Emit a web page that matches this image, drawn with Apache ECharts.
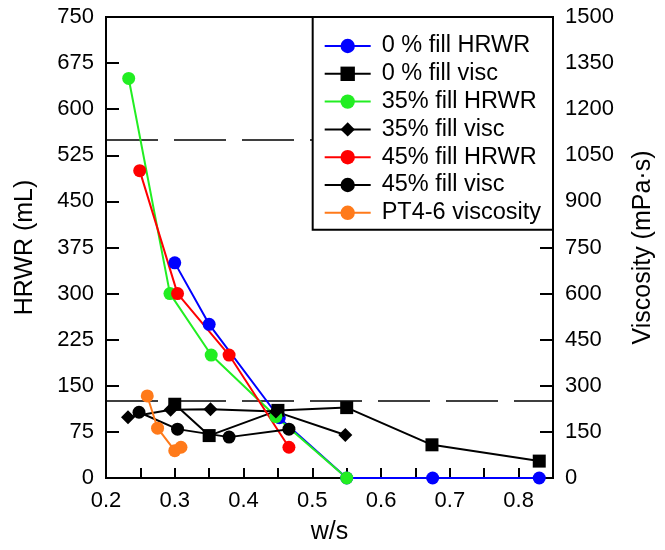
<!DOCTYPE html>
<html>
<head>
<meta charset="utf-8">
<script src="https://cdn.jsdelivr.net/npm/echarts@6/dist/echarts.min.js"></script>
<style>html,body{margin:0;padding:0;background:#fff;}#chart{width:665px;height:550px;}</style>
</head>
<body>
<div id="chart"></div>
<script>
// Data (x = w/s)
const hrwr0 = [[0.30, 350], [0.35, 250], [0.452, 98], [0.55, 0], [0.675, 0], [0.83, 0]];
const visc0 = [[0.30, 240], [0.35, 138], [0.45, 220], [0.55, 229], [0.674, 108], [0.83, 55]];
const hrwr35 = [[0.233, 650], [0.293, 300], [0.353, 200], [0.447, 100], [0.55, 0]];
const visc35 = [[0.232, 198], [0.294, 222], [0.352, 224], [0.447, 216], [0.548, 140]];
const hrwr45 = [[0.249, 500], [0.304, 300], [0.379, 200], [0.466, 50]];
const visc45 = [[0.248, 214], [0.304, 159], [0.379, 133], [0.466, 159]];
const pt46 = [[0.26, 267], [0.275, 162], [0.30, 89], [0.309, 100]];
const limitLines = [1100, 250];
const seriesNames = ['0 % fill HRWR', '0 % fill visc', '35% fill HRWR', '35% fill visc', '45% fill HRWR', '45% fill visc', 'PT4-6 viscosity'];

const FONT = 'Liberation Sans, Arial, sans-serif';
const chart = echarts.init(document.getElementById('chart'), null, {renderer: 'canvas'});

function mk(name, data, color, symbol, size, yIdx) {
  return {
    name: name, type: 'line', data: data, yAxisIndex: yIdx,
    symbol: symbol, symbolSize: size, showSymbol: true,
    lineStyle: {color: color, width: 2},
    itemStyle: {color: color},
    animation: false
  };
}

const series = [
  mk(seriesNames[0], hrwr0, '#0000ff', 'circle', 13, 0),
  mk(seriesNames[1], visc0, '#000000', 'rect', 13, 1),
  mk(seriesNames[2], hrwr35, '#22ee22', 'circle', 13, 0),
  mk(seriesNames[3], visc35, '#000000', 'diamond', 14, 1),
  mk(seriesNames[4], hrwr45, '#ff0000', 'circle', 13, 0),
  mk(seriesNames[5], visc45, '#000000', 'circle', 13, 1),
  mk(seriesNames[6], pt46, '#ff7a1a', 'circle', 13, 1)
];
series[1].markLine = {
  silent: true, symbol: 'none', animation: false, z: 1,
  label: {show: false},
  lineStyle: {color: '#000', width: 1.5, type: [52, 16]},
  data: limitLines.map(v => ({yAxis: v}))
};

chart.setOption({
  backgroundColor: '#fff',
  animation: false,
  grid: {left: 106, right: 112, top: 17, bottom: 72, show: true, borderColor: '#000', borderWidth: 2, backgroundColor: 'transparent'},
  legend: {
    orient: 'vertical', right: 112, top: 17, z: 20, zlevel: 1,
    data: seriesNames,
    itemWidth: 46, itemHeight: 18, itemGap: 3.8,
    padding: [17, 12, 5, 11],
    backgroundColor: '#fff', borderColor: '#000', borderWidth: 2,
    textStyle: {fontFamily: FONT, fontSize: 23.5, color: '#000', lineHeight: 23, padding: [0, 0, 0, 6]}
  },
  xAxis: {
    type: 'value', min: 0.2, max: 0.85, interval: 0.05,
    name: 'w/s', nameLocation: 'middle', nameGap: 42,
    nameTextStyle: {fontFamily: FONT, fontSize: 25, color: '#000'},
    axisLine: {lineStyle: {color: '#000', width: 2}},
    axisTick: {inside: true, length: 10, lineStyle: {color: '#000', width: 2}},
    axisLabel: {fontFamily: FONT, fontSize: 22, color: '#000', margin: 12,
      formatter: v => (Math.round(v * 100) % 10 === 0 ? (Math.round(v * 10) / 10).toFixed(1) : '')},
    splitLine: {show: false}
  },
  yAxis: [
    {
      type: 'value', min: 0, max: 750, interval: 75, position: 'left',
      name: 'HRWR (mL)', nameLocation: 'middle', nameGap: 68, nameRotate: 90,
      nameTextStyle: {fontFamily: FONT, fontSize: 25, color: '#000'},
      axisLine: {show: true, lineStyle: {color: '#000', width: 2}},
      axisTick: {show: true, inside: true, length: 13, lineStyle: {color: '#000', width: 2}},
      axisLabel: {fontFamily: FONT, fontSize: 22, color: '#000', margin: 12, formatter: v => String(v)},
      splitLine: {show: false}
    },
    {
      type: 'value', min: 0, max: 1500, interval: 150, position: 'right',
      name: 'Viscosity (mPa·s)', nameLocation: 'middle', nameGap: 78, nameRotate: 90,
      nameTextStyle: {fontFamily: FONT, fontSize: 25, color: '#000'},
      axisLine: {show: true, lineStyle: {color: '#000', width: 2}},
      axisTick: {show: true, inside: true, length: 13, lineStyle: {color: '#000', width: 2}},
      axisLabel: {fontFamily: FONT, fontSize: 22, color: '#000', margin: 12, formatter: v => String(v)},
      splitLine: {show: false}
    }
  ],
  series: series
});
</script>
</body>
</html>
